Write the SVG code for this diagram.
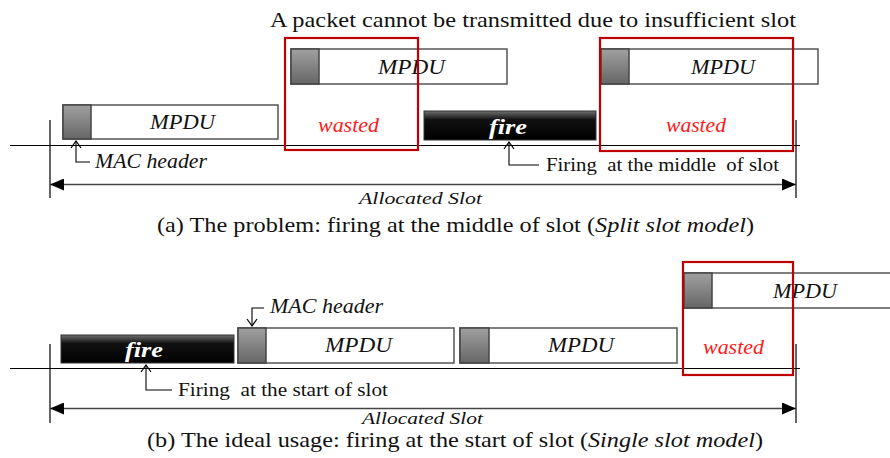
<svg xmlns="http://www.w3.org/2000/svg" width="890" height="458" viewBox="0 0 890 458">
  <defs>
    <linearGradient id="hdrGrad" x1="0" y1="0" x2="0" y2="1">
      <stop offset="0" stop-color="#a0a0a0"/>
      <stop offset="1" stop-color="#666666"/>
    </linearGradient>
    <linearGradient id="fireGrad" x1="0" y1="0" x2="0" y2="1">
      <stop offset="0" stop-color="#707070"/>
      <stop offset="0.3" stop-color="#111111"/>
      <stop offset="1" stop-color="#000000"/>
    </linearGradient>
    <marker id="solidHead" viewBox="0 0 14 12" refX="14" refY="6" markerWidth="14" markerHeight="12" markerUnits="userSpaceOnUse" orient="auto-start-reverse">
      <path d="M0,0 L14,6 L0,12 Z" fill="#000"/>
    </marker>
    <marker id="openHead" viewBox="0 0 12 12" refX="11" refY="6" markerWidth="12" markerHeight="12" markerUnits="userSpaceOnUse" orient="auto">
      <path d="M4,1 L11,6 L4,11" fill="none" stroke="#000" stroke-width="1.2"/>
    </marker>
  </defs>
  <style>
    text { font-family: "Liberation Serif", serif; }
    .txt { fill: #111; }
    .it { font-style: italic; }
    .box { fill: #fff; stroke: #555; stroke-width: 1.5; }
    .hdr { fill: url(#hdrGrad); stroke: #444; stroke-width: 1.5; }
    .fire { fill: url(#fireGrad); stroke: #333; stroke-width: 1; }
    .fireTxt { font-style: italic; font-weight: bold; fill: #fff; font-size: 22px; }
    .waste { fill: none; stroke: #c00000; stroke-width: 2.2; }
    .wasteTxt { font-style: italic; fill: #ff1a1a; font-size: 20px; }
    .line { fill: none; stroke: #000; stroke-width: 1.2; }
    .span { fill: none; stroke: #444; stroke-width: 1.5; }
    .ptr { fill: none; stroke: #000; stroke-width: 1.1; }
  </style>

  <!-- Connectors: time axes, slot boundaries, span arrows and label pointers -->
  <g id="connectors">
    <!-- panel (a) -->
    <line class="line" x1="10" y1="145.5" x2="800" y2="145.5"/>
    <line class="line" x1="50" y1="120" x2="50" y2="198"/>
    <line class="line" x1="796" y1="120" x2="796" y2="198"/>
    <line class="span" x1="50" y1="184.5" x2="796" y2="184.5" marker-start="url(#solidHead)" marker-end="url(#solidHead)"/>
    <path class="ptr" d="M90,162 L76,162 L76,141" marker-end="url(#openHead)"/>
    <path class="ptr" d="M539,165 L509,165 L509,142" marker-end="url(#openHead)"/>
    <!-- panel (b) -->
    <line class="line" x1="10" y1="368.5" x2="800" y2="368.5"/>
    <line class="line" x1="50" y1="344" x2="50" y2="423"/>
    <line class="line" x1="796" y1="344" x2="796" y2="423"/>
    <line class="span" x1="50" y1="408.5" x2="796" y2="408.5" marker-start="url(#solidHead)" marker-end="url(#solidHead)"/>
    <path class="ptr" d="M172,390 L146,390 L146,365" marker-end="url(#openHead)"/>
    <path class="ptr" d="M264,308 L252,308 L252,326" marker-end="url(#openHead)"/>
  </g>

  <!-- Panel (a): split slot model -->
  <text class="txt" x="270" y="27" font-size="21.5" textLength="526" lengthAdjust="spacingAndGlyphs">A packet cannot be transmitted due to insufficient slot</text>

  <g id="a-mpdu1">
    <rect class="box" x="63" y="105" width="215" height="34"/>
    <rect class="hdr" x="63" y="105" width="28" height="34"/>
    <text class="txt it" x="150" y="129" font-size="20" textLength="65" lengthAdjust="spacingAndGlyphs">MPDU</text>
  </g>
  <g id="a-mpdu2">
    <rect class="box" x="291" y="49" width="216" height="35"/>
    <rect class="hdr" x="291" y="49" width="28" height="35"/>
    <text class="txt it" x="378" y="74" font-size="20" textLength="67" lengthAdjust="spacingAndGlyphs">MPDU</text>
  </g>
  <g id="a-waste1">
    <rect class="waste" x="285" y="38" width="133" height="112"/>
    <text class="wasteTxt" x="318" y="132" textLength="61" lengthAdjust="spacingAndGlyphs">wasted</text>
  </g>
  <g id="a-fire">
    <rect class="fire" x="424" y="111" width="172" height="29"/>
    <text class="fireTxt" x="489" y="134" textLength="38" lengthAdjust="spacingAndGlyphs">fire</text>
  </g>
  <g id="a-mpdu3">
    <rect class="box" x="601" y="49" width="217" height="35"/>
    <rect class="hdr" x="601" y="49" width="28" height="35"/>
    <text class="txt it" x="691" y="74" font-size="20" textLength="64" lengthAdjust="spacingAndGlyphs">MPDU</text>
  </g>
  <g id="a-waste2">
    <rect class="waste" x="600" y="38" width="193" height="113"/>
    <text class="wasteTxt" x="666" y="132" textLength="60" lengthAdjust="spacingAndGlyphs">wasted</text>
  </g>
  <g id="a-labels">
    <text class="txt it" x="95" y="168" font-size="20" textLength="112" lengthAdjust="spacingAndGlyphs">MAC header</text>
    <text class="txt" x="546" y="171" font-size="19.5" textLength="233" lengthAdjust="spacingAndGlyphs" xml:space="preserve">Firing  at the middle  of slot</text>
    <text class="txt it" x="359" y="204" font-size="17.5" textLength="123" lengthAdjust="spacingAndGlyphs">Allocated Slot</text>
    <text class="txt" x="157" y="232" font-size="21" textLength="597" lengthAdjust="spacingAndGlyphs">(a) The problem: firing at the middle of slot (<tspan class="it">Split slot model</tspan>)</text>
  </g>

  <!-- Panel (b): single slot model -->
  <g id="b-fire">
    <rect class="fire" x="61" y="335" width="173" height="28"/>
    <text class="fireTxt" x="125" y="357" textLength="38" lengthAdjust="spacingAndGlyphs">fire</text>
  </g>
  <g id="b-mpdu1">
    <rect class="box" x="238" y="328" width="216" height="35"/>
    <rect class="hdr" x="238" y="328" width="28" height="35"/>
    <text class="txt it" x="325" y="352" font-size="20" textLength="67" lengthAdjust="spacingAndGlyphs">MPDU</text>
  </g>
  <g id="b-mpdu2">
    <rect class="box" x="460" y="328" width="217" height="35"/>
    <rect class="hdr" x="460" y="328" width="29" height="35"/>
    <text class="txt it" x="548" y="352" font-size="20" textLength="66" lengthAdjust="spacingAndGlyphs">MPDU</text>
  </g>
  <g id="b-mpdu3">
    <rect class="box" x="684" y="273" width="220" height="35"/>
    <rect class="hdr" x="684" y="273" width="28" height="35"/>
    <text class="txt it" x="773" y="298" font-size="20" textLength="64" lengthAdjust="spacingAndGlyphs">MPDU</text>
  </g>
  <g id="b-waste">
    <rect class="waste" x="683" y="262" width="110" height="113"/>
    <text class="wasteTxt" x="703" y="354" textLength="61" lengthAdjust="spacingAndGlyphs">wasted</text>
  </g>
  <g id="b-labels">
    <text class="txt it" x="270" y="313" font-size="20" textLength="113" lengthAdjust="spacingAndGlyphs">MAC header</text>
    <text class="txt" x="178" y="396" font-size="19.5" textLength="210" lengthAdjust="spacingAndGlyphs" xml:space="preserve">Firing  at the start of slot</text>
    <text class="txt it" x="362" y="424" font-size="17.5" textLength="121" lengthAdjust="spacingAndGlyphs">Allocated Slot</text>
    <text class="txt" x="147" y="447" font-size="21" textLength="616" lengthAdjust="spacingAndGlyphs">(b) The ideal usage: firing at the start of slot (<tspan class="it">Single slot model</tspan>)</text>
  </g>
</svg>
